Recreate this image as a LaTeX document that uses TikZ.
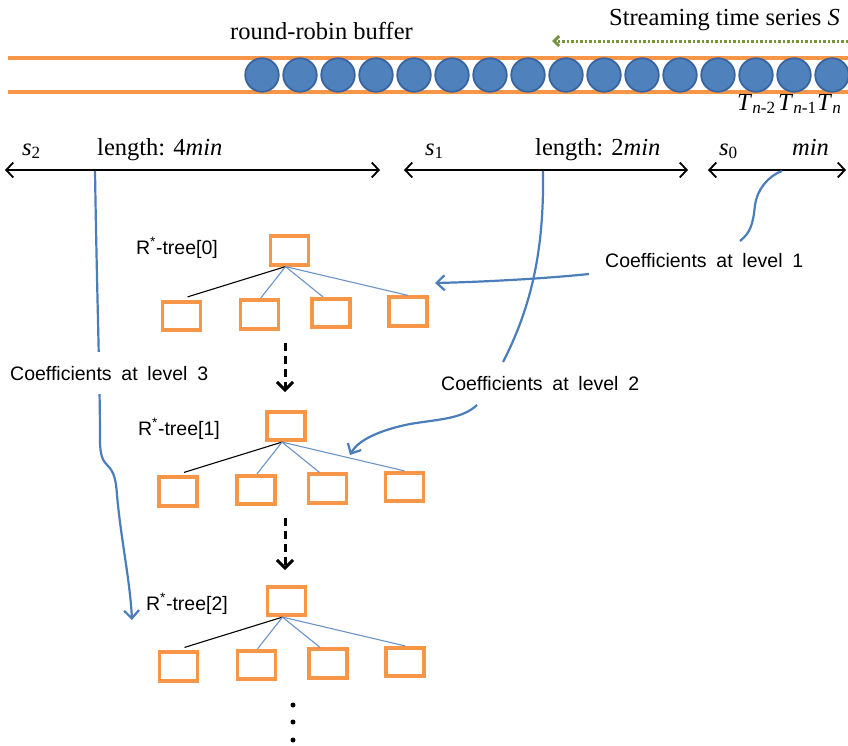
\documentclass[tikz,border=0pt]{standalone}
\usepackage{fontspec}
\setmainfont{Liberation Serif}
\newfontfamily\sansf[WordSpace=1.8]{Liberation Sans}
\usetikzlibrary{arrows.meta,calc}

\definecolor{bufor}{HTML}{F79646}
\definecolor{cellfill}{HTML}{4F81BD}
\definecolor{celledge}{HTML}{3A64A0}
\definecolor{coefblue}{HTML}{4A7EBB}
\definecolor{branchblue}{HTML}{6A93C8}
\definecolor{flowgreen}{HTML}{77933C}

\tikzset{
  x=1pt, y=1pt,
  bufline/.style={draw=bufor, line width=4pt},
  cell/.style={circle, fill=cellfill, draw=celledge, line width=1.8pt,
    minimum size=33.5pt, inner sep=0pt},
  serif/.style={font=\fontsize{24.5}{28}\selectfont, inner sep=0pt},
  coeftext/.style={font=\sansf\fontsize{19.5}{22}\selectfont, inner sep=0pt},
  treelabel/.style={font=\sansf\fontsize{19.5}{22}\selectfont, inner sep=0pt},
  rbox/.style={draw=bufor, line width=3.7pt, minimum width=38pt,
    minimum height=28.5pt, inner sep=0pt},
  treeblack/.style={draw=black, line width=1.1pt},
  treeblue/.style={draw=branchblue, line width=1.1pt},
  span/.style={draw=black, line width=1.8pt,
    {Straight Barb[length=7pt,width=15pt]}-{Straight Barb[length=7pt,width=15pt]}},
  coef/.style={draw=coefblue, line width=2.2pt},
  coefarrow/.style={coef, -{Straight Barb[length=8pt,width=15pt]}},
  nextarrow/.style={draw=black, line width=3pt, dash pattern=on 8pt off 5pt,
    -{Straight Barb[length=8pt,width=16pt]}},
  flow/.style={draw=flowgreen, line width=3pt, dash pattern=on 2.5pt off 2pt,
    -{Straight Barb[length=5pt,width=10pt]}},
  dot/.style={circle, fill=black, minimum size=5pt, inner sep=0pt},
}

% one R*-tree: name, root centre x, root centre y, label east x, label baseline y, index
\newcommand\rtree[6]{%
  \node[rbox] (#1) at (#2,-#3) {};
  \node[rbox] (#1-1) at ($(#1)+(-108,-65.5)$) {};
  \node[rbox] (#1-2) at ($(#1)+(-30,-64)$) {};
  \node[rbox] (#1-3) at ($(#1)+(41.5,-62.5)$) {};
  \node[rbox] (#1-4) at ($(#1)+(118.5,-61)$) {};
  \coordinate (#1-fork) at ([xshift=-4pt]#1.south);
  \draw[treeblack] (#1-fork) -- ([xshift=6pt,yshift=3pt]#1-1.north);
  \draw[treeblue] (#1-fork) -- ([xshift=1pt]#1-2.north);
  \draw[treeblue] (#1-fork) -- ([xshift=-8pt]#1-3.north);
  \draw[treeblue] (#1-fork) -- (#1-4.north);
  \node[treelabel, anchor=base east] (#1-label) at (#4,-#5) {R\textsuperscript{*}-tree[#6]};
}

\begin{document}
\begin{tikzpicture}
\clip (0,0) rectangle (848,-745);

% round-robin buffer
\coordinate (bufTL) at (8,-58);  \coordinate (bufTR) at (848,-58);
\coordinate (bufBL) at (8,-92);  \coordinate (bufBR) at (848,-92);
\draw[bufline] (bufTL) -- (bufTR);
\draw[bufline] (bufBL) -- (bufBR);
\foreach \i in {1,...,16}
  \node[cell] (cell\i) at ({262+38*(\i-1)},-75) {};

\node[serif, anchor=base] (buftitle) at (321.5,-39) {round-robin buffer};
\node[serif, anchor=base east] (streamtitle) at (840,-25) {Streaming time series \textit{S}};
\coordinate (flowin) at (848,-41);
\coordinate (flowout) at (552,-41);
\draw[flow] (flowin) -- (flowout);

\node[serif, anchor=base west] (tn2) at (737,-110) {\textit{T}\textsubscript{\textit{n}-2}};
\node[serif, anchor=base west] (tn1) at (778,-110) {\textit{T}\textsubscript{\textit{n}-1}};
\node[serif, anchor=base west] (tn0) at (817,-110) {\textit{T}\textsubscript{\textit{n}}};

% segments of the stream
\coordinate (s2l) at (5,-170);   \coordinate (s2r) at (380,-170);
\coordinate (s1l) at (404,-170); \coordinate (s1r) at (688,-170);
\coordinate (s0l) at (708,-170); \coordinate (s0r) at (846,-170);
\draw[span] (s2l) -- (s2r);
\draw[span] (s1l) -- (s1r);
\draw[span] (s0l) -- (s0r);
\node[serif, anchor=base west] (s2lab) at (22,-155) {\textit{s}\textsubscript{2}};
\node[serif, anchor=base west] (s2len) at (97,-155) {length: 4\textit{min}};
\node[serif, anchor=base west] (s1lab) at (425,-155) {\textit{s}\textsubscript{1}};
\node[serif, anchor=base west] (s1len) at (535,-155) {length: 2\textit{min}};
\node[serif, anchor=base west] (s0lab) at (719,-155) {\textit{s}\textsubscript{0}};
\node[serif, anchor=base west] (s0len) at (792,-155) {\textit{min}};

% the index trees
\rtree{t0}{289.5}{250.5}{218}{254}{0}
\rtree{t1}{286}{426}{220}{435}{1}
\rtree{t2}{286.5}{601}{228}{610}{2}

\coordinate (n01a) at (285,-343); \coordinate (n01b) at (285,-392);
\coordinate (n12a) at (285,-518); \coordinate (n12b) at (285,-570);
\draw[nextarrow] (n01a) -- (n01b);
\draw[nextarrow] (n12a) -- (n12b);

\node[dot] (more1) at (293,-705) {};
\node[dot] (more2) at (293,-722) {};
\node[dot] (more3) at (293,-740) {};

% coefficients at level 1
\coordinate (c1a) at (782,-171);
\coordinate (c1b) at (740,-241);
\draw[coef] (c1a) .. controls (768,-176) and (757,-190) .. (755,-205)
  .. controls (753,-225) and (750,-233) .. (c1b);
\node[coeftext, anchor=base west] (lev1) at (605,-267) {Coefficients at level 1};
\coordinate (a1a) at (589,-274);
\coordinate (a1b) at (435,-283);
\draw[coefarrow] (a1a) .. controls (540,-279) and (480,-282) .. (a1b);

% coefficients at level 2
\coordinate (c2a) at (543,-171);
\coordinate (c2b) at (503,-362);
\draw[coef] (c2a) .. controls (544,-240) and (535,-300) .. (c2b);
\node[coeftext, anchor=base west] (lev2) at (441,-390) {Coefficients at level 2};
\coordinate (a2a) at (477,-405);
\coordinate (a2b) at (350,-455);
\draw[coefarrow] (a2a) .. controls (462,-419) and (440,-419) .. (410,-424)
  .. controls (380,-430) and (358,-440) .. (a2b);

% coefficients at level 3
\coordinate (c3a) at (95,-171);
\coordinate (c3b) at (132,-620);
\draw[coefarrow] (c3a) .. controls (97,-300) and (100,-380) .. (100,-440)
  .. controls (100,-456) and (103,-461) .. (108,-466)
  .. controls (114,-472) and (116,-480) .. (117,-495)
  .. controls (121,-540) and (130,-580) .. (c3b);
\node[coeftext, anchor=base west, fill=white, inner ysep=14pt] (lev3) at (10,-380) {Coefficients at level 3};
\end{tikzpicture}
\end{document}
